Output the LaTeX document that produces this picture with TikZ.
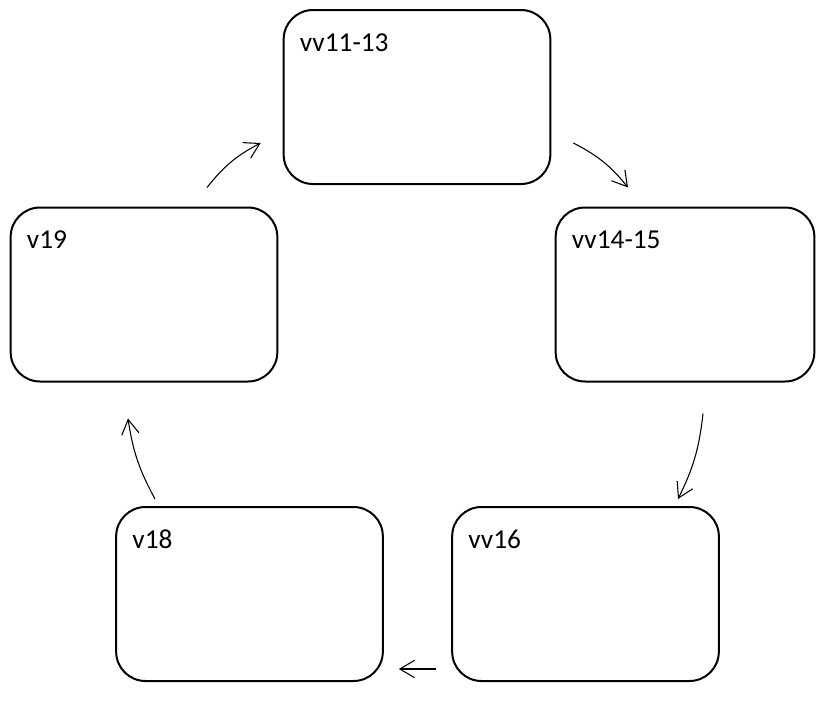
\documentclass[tikz,border=0pt]{standalone}
\usepackage{fontspec}
\setmainfont{Carlito}
\usetikzlibrary{arrows.meta}
\tikzset{
  box/.style={draw, line width=1.5pt, rounded corners=22pt,
    minimum width=200pt, minimum height=130.5pt, inner sep=0pt},
  lab/.style={anchor=base west, inner sep=0pt, xshift=12.75pt, yshift=-31.5pt,
    font=\fontsize{20.5}{24}\selectfont},
  arr/.style={line width=0.8pt, -{Straight Barb[length=11pt,width=13pt,line width=0.8pt]}}
}
\begin{document}
\begin{tikzpicture}[x=0.75pt,y=-0.75pt]
  \useasboundingbox (0,0) rectangle (816,703);
  \node[box, label={[lab]north west:vv11-13}] (top) at (417,97) {};
  \node[box, minimum width=194pt, label={[lab]north west:vv14-15}] (right) at (685,294.5) {};
  \node[box, label={[lab]north west:vv16}] (bright) at (585.5,594) {};
  \node[box, label={[lab]north west:v18}] (bleft) at (249.5,594) {};
  \node[box, label={[lab]north west:v19}] (left) at (144,294.5) {};
  % arrows
  \draw[arr] ([shift={(63,-19)}]left.north) to[bend left=12] ([shift={(-22,46)}]top.west);
  \draw[arr] ([shift={(22,46)}]top.east) to[bend left=12] ([shift={(-57,-19)}]right.north);
  \draw[arr] ([shift={(18,31)}]right.south) to[bend left=10] ([shift={(92.5,-7)}]bright.north);
  \draw[arr] ([shift={(-15,75)}]bright.west) -- ([shift={(15,75)}]bleft.east);
  \draw[arr] ([shift={(-94.5,-7)}]bleft.north) to[bend left=10] ([shift={(-16,36)}]left.south);
\end{tikzpicture}
\end{document}
